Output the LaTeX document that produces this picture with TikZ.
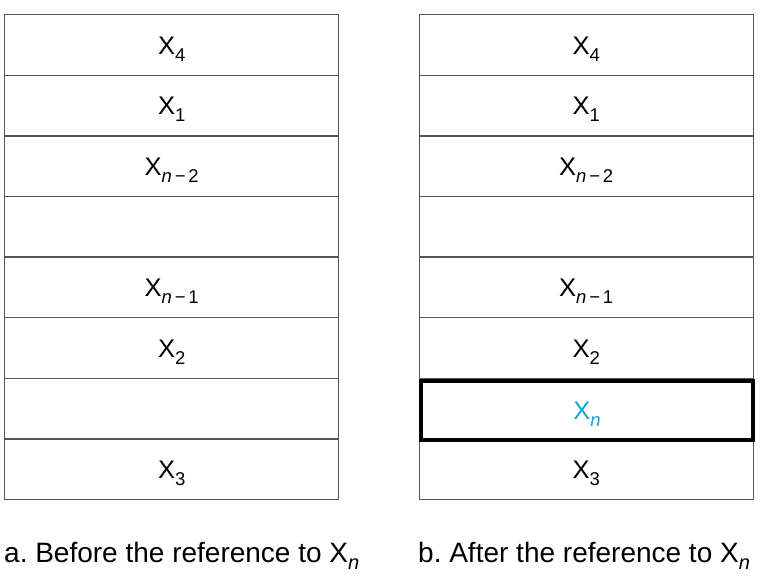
\documentclass[tikz,border=0pt]{standalone}
\usepackage{fontspec}
\setmainfont{Liberation Sans}
\frenchspacing
\definecolor{cellline}{RGB}{85,85,85}
\definecolor{hiblue}{RGB}{20,160,228}
\newcommand{\mysub}[1]{\raisebox{-7pt}{\fontsize{18.5}{18.5}\selectfont #1}}
\newcommand{\capsub}[1]{\raisebox{-7pt}{\fontsize{20}{20}\selectfont #1}}
\newcommand{\xv}[1]{X\mysub{#1}}
\newcommand{\mn}{\hspace{0.15em}−\hspace{0.15em}}
\begin{document}
\begin{tikzpicture}[x=1pt,y=-1pt,
  cell/.style={draw=cellline,line width=1.4pt,minimum width=334pt,minimum height=60.6pt,
    anchor=north west,inner sep=0pt,text height=24pt,text depth=6pt,
    font=\fontsize{25.5}{25.5}\selectfont},
  hicell/.style={cell,draw=black,line width=4pt,text=hiblue,
    minimum width=332pt,minimum height=59pt},
  caption/.style={anchor=base west,inner sep=0pt,font=\fontsize{28}{28}\selectfont}]
\useasboundingbox (0,0) rectangle (778,579);
% left column
\node[cell] (a1) at (4,14) {\xv{4}};
\node[cell] (a2) at (4,74.6) {\xv{1}};
\node[cell] (a3) at (4,135.2) {\xv{\textit{n}\mn 2}};
\node[cell] (a4) at (4,195.8) {};
\node[cell] (a5) at (4,256.4) {\xv{\textit{n}\mn 1}};
\node[cell] (a6) at (4,317) {\xv{2}};
\node[cell] (a7) at (4,377.6) {};
\node[cell] (a8) at (4,438.2) {\xv{3}};
% right column
\node[cell] (b1) at (418.5,14) {\xv{4}};
\node[cell] (b2) at (418.5,74.6) {\xv{1}};
\node[cell] (b3) at (418.5,135.2) {\xv{\textit{n}\mn 2}};
\node[cell] (b4) at (418.5,195.8) {};
\node[cell] (b5) at (418.5,256.4) {\xv{\textit{n}\mn 1}};
\node[cell] (b6) at (418.5,317) {\xv{2}};
\node[cell] (b8) at (418.5,438.2) {\xv{3}};
\node[hicell] (b7) at (419,378.5) {\xv{\textit{n}}};
% captions
\node[caption] (capa) at (4,562) {a. Before the reference to X\capsub{\textit{n}}};
\node[caption] (capb) at (418,562) {b. After the reference to X\capsub{\textit{n}}};
\end{tikzpicture}
\end{document}
